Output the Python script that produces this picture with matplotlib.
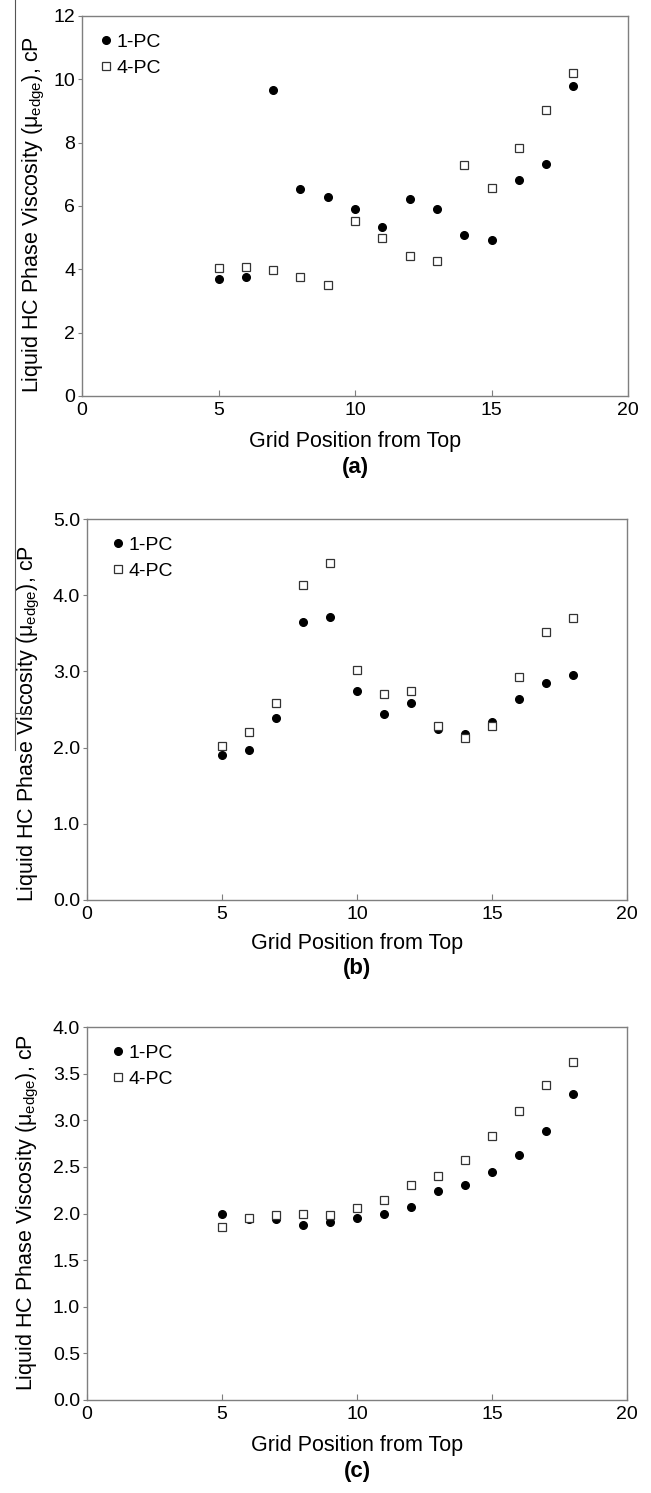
import matplotlib
matplotlib.use("Agg")
import matplotlib.pyplot as plt
from matplotlib.lines import Line2D
from matplotlib.ticker import FormatStrFormatter

plt.rcParams['font.family'] = ['Liberation Sans', 'DejaVu Sans']

grid_pos = [5, 6, 7, 8, 9, 10, 11, 12, 13, 14, 15, 16, 17, 18]

# (a)
visc_a_1pc = [3.71, 3.77, 9.65, 6.55, 6.28, 5.89, 5.35, 6.23, 5.90, 5.09, 4.92, 6.83, 7.33, 9.79]
visc_a_4pc = [4.04, 4.06, 3.97, 3.77, 3.52, 5.53, 5.00, 4.42, 4.25, 7.29, 6.56, 7.84, 9.02, 10.20]
# (b)
visc_b_1pc = [1.90, 1.97, 2.39, 3.65, 3.71, 2.74, 2.44, 2.58, 2.25, 2.18, 2.33, 2.64, 2.85, 2.95]
visc_b_4pc = [2.02, 2.21, 2.59, 4.14, 4.42, 3.02, 2.70, 2.74, 2.28, 2.12, 2.29, 2.92, 3.52, 3.70]
# (c)
visc_c_1pc = [1.99, 1.94, 1.94, 1.88, 1.91, 1.95, 1.99, 2.07, 2.24, 2.31, 2.45, 2.63, 2.89, 3.28]
visc_c_4pc = [1.85, 1.95, 1.98, 2.00, 1.98, 2.06, 2.14, 2.31, 2.40, 2.57, 2.83, 3.10, 3.38, 3.63]

panel_labels = ["(a)", "(b)", "(c)"]
y_limits = [(0, 12), (0, 5), (0, 4)]
y_steps = [2, 1, 0.5]
y_formats = ["%d", "%.1f", "%.1f"]

W, H = 651, 1493
fig = plt.figure(figsize=(W / 100, H / 100), dpi=100)

# axes boxes in pixels: left, top, right, bottom
boxes = [(82, 16, 628, 396), (87, 519, 627, 900), (87, 1027, 627, 1400)]
xlabel_y = [442, 944, 1445]
panel_y = [467, 968, 1471]
ylabel_x = [47, 42, 41]      # anchor (right side) of the rotated y label, px
ylabel_cy = [215, 724, 1213]
legend_x = [18, 25, 25]      # px from left spine
legend_top = 17              # px from top spine

series = [(visc_a_1pc, visc_a_4pc), (visc_b_1pc, visc_b_4pc), (visc_c_1pc, visc_c_4pc)]
gray = "#7f7f7f"

for i, (l, t, r, b) in enumerate(boxes):
    ax = fig.add_axes([l / W, (H - b) / H, (r - l) / W, (b - t) / H])
    s1, s4 = series[i]
    ax.plot(grid_pos, s1, linestyle="none", marker="o", markersize=5.5,
            color="black", label="1-PC")
    ax.plot(grid_pos, s4, linestyle="none", marker="s", markersize=5.5,
            markerfacecolor="white", markeredgecolor="#333333",
            markeredgewidth=0.9, label="4-PC")

    ax.set_xlim(0, 20)
    ax.set_ylim(*y_limits[i])
    ax.set_xticks([0, 5, 10, 15, 20])
    lo, hi = y_limits[i]
    n = int(round((hi - lo) / y_steps[i]))
    ax.set_yticks([lo + k * y_steps[i] for k in range(n + 1)])
    ax.yaxis.set_major_formatter(FormatStrFormatter(y_formats[i]))

    for sp in ax.spines.values():
        sp.set_color(gray)
        sp.set_linewidth(1.0)
    ax.tick_params(axis="x", direction="in", length=4, color=gray,
                   labelsize=14, pad=4)
    ax.tick_params(axis="y", direction="out", length=3, color=gray,
                   labelsize=14, pad=2)

    ax.set_ylabel("Liquid HC Phase Viscosity (μ$_{\\mathregular{edge}}$), cP",
                  fontsize=15.5)
    ax.yaxis.set_label_coords((ylabel_x[i] - l) / (r - l), (b - ylabel_cy[i]) / (b - t))

    ax.legend(loc="upper left", frameon=False, fontsize=14,
              bbox_to_anchor=(legend_x[i] / (r - l), 1 - legend_top / (b - t)),
              handlelength=0.6, handletextpad=0.25, labelspacing=0.45,
              borderaxespad=0.0, borderpad=0.0)

    cx = (l + r) / 2 / W
    fig.text(cx, 1 - xlabel_y[i] / H, "Grid Position from Top",
             ha="center", va="center", fontsize=15.5)
    fig.text(cx, 1 - panel_y[i] / H, panel_labels[i],
             ha="center", va="center", fontsize=16, fontweight="bold")

# thin scan line at the left edge of the original figure
fig.add_artist(Line2D([15 / W, 15 / W], [1.0, 1 - 750 / H],
                      color="#555555", linewidth=0.8))
fig.add_artist(Line2D([15 / W, 28 / W], [1 - 713 / H, 1 - 713 / H],
                      color="#555555", linewidth=0.8))

fig.savefig("out.png", dpi=100)
